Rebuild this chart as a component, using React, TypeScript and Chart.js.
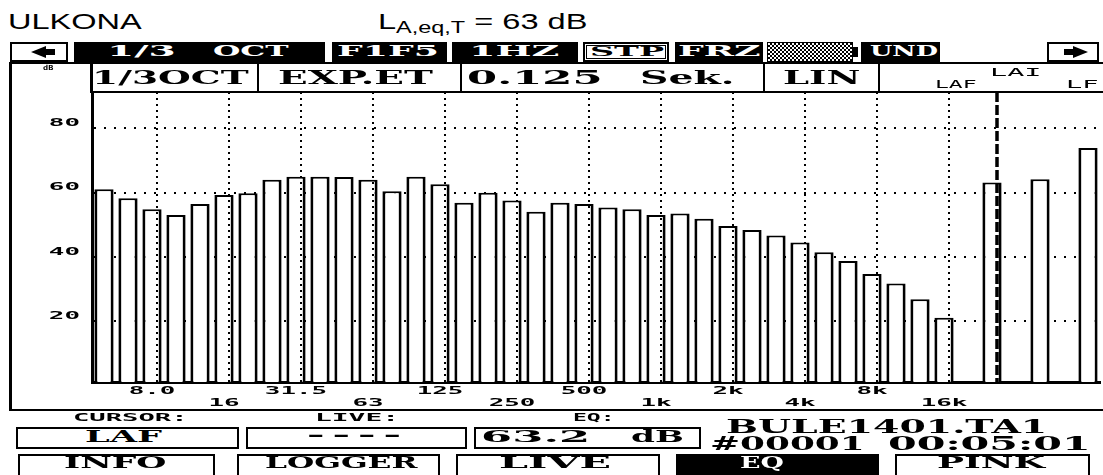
import React, { useEffect, useLayoutEffect, useRef, useState } from 'react';
import { Chart, registerables } from 'chart.js';

Chart.register(...registerables);

// ---------------- data ----------------
const bandLabels = ['5', '6.3', '8.0', '10', '12.5', '16', '20', '25', '31.5', '40', '50', '63', '80', '100', '125', '160', '200', '250', '315', '400', '500', '630', '800', '1k', '1.25k', '1.6k', '2k', '2.5k', '3.15k', '4k', '5k', '6.3k', '8k', '10k', '12.5k', '16k'];
const bandLevels = [61.0, 58.2, 54.8, 53.0, 56.4, 59.2, 59.8, 64.0, 64.9, 64.9, 64.8, 64.0, 60.4, 64.9, 62.6, 56.8, 59.9, 57.5, 54.0, 56.8, 56.4, 55.3, 54.8, 53.0, 53.5, 51.8, 49.6, 48.3, 46.6, 44.4, 41.4, 38.7, 34.6, 31.7, 26.8, 21.0];
const summaryLabels = ['LAF', 'LAI', 'LF'];
const summaryLevels = [63.1, 64.1, 73.9];
const octaveTicks = ['8.0', '16', '31.5', '63', '125', '250', '500', '1k', '2k', '4k', '8k', '16k'];
const yTicks = [20, 40, 60, 80];
const yMin = 1;
const yMax = 91.3;
const cursorLabel = 'LAF';

// ---------------- chart helpers ----------------
const TICK_STRETCH = 2.35;

const stretchTextPlugin = {
  id: 'lcdStretchText',
  beforeDraw(chart: any) {
    const ctx = chart.ctx;
    const native = CanvasRenderingContext2D.prototype.fillText;
    ctx.fillText = function (text: string, x: number, y: number) {
      this.save();
      this.translate(x, y);
      this.scale(TICK_STRETCH, 1);
      native.call(this, text, 0, 0);
      this.restore();
    };
  },
  afterDraw(chart: any) {
    delete chart.ctx.fillText;
  },
};

const gridOverlayPlugin = {
  id: 'lcdGridOverlay',
  afterDatasetsDraw(chart: any) {
    const { ctx, chartArea, scales } = chart;
    const x = scales.x;
    const slot = x.getPixelForValue(1) - x.getPixelForValue(0);
    const shift = slot * 0.21;
    const labels: string[] = chart.data.labels;
    ctx.save();
    ctx.strokeStyle = '#000';
    ctx.lineWidth = 2;
    ctx.setLineDash([2, 4]);
    labels.forEach((lab, i) => {
      if (i < bandLabels.length && octaveTicks.includes(lab)) {
        const px = Math.round(x.getPixelForValue(i) + shift);
        ctx.beginPath();
        ctx.moveTo(px, chartArea.top);
        ctx.lineTo(px, chartArea.bottom);
        ctx.stroke();
      }
    });
    const ci = labels.indexOf(cursorLabel);
    if (ci >= 0) {
      const px = Math.round(x.getPixelForValue(ci) + shift);
      ctx.lineWidth = 3.5;
      ctx.setLineDash([10, 3]);
      ctx.beginPath();
      ctx.moveTo(px, chartArea.top);
      ctx.lineTo(px, chartArea.bottom);
      ctx.stroke();
    }
    ctx.restore();
  },
};

function tickText(i: number): string | string[] {
  if (i >= bandLabels.length) return '';
  const k = octaveTicks.indexOf(bandLabels[i]);
  if (k < 0) return '';
  return k % 2 === 0 ? octaveTicks[k] : ['', octaveTicks[k]];
}

const tickFont = { family: '"DejaVu Sans Mono", monospace', size: 11, weight: 'bold' as const, lineHeight: 12 / 11 };

function SpectrumChart() {
  const ref = useRef<HTMLCanvasElement>(null);
  useEffect(() => {
    const canvas = ref.current;
    if (!canvas) return;
    const categories = [...bandLabels, ...summaryLabels.flatMap((l) => ['', l])];
    const values = [...bandLevels, ...summaryLevels.flatMap((v) => [null, v])];
    const chart = new Chart(canvas, {
      type: 'bar',
      data: {
        labels: categories,
        datasets: [
          {
            data: values as any,
            backgroundColor: '#fff',
            borderColor: '#000',
            borderWidth: { top: 2, left: 3, right: 3, bottom: 0 },
            borderSkipped: 'start',
            barPercentage: 0.8,
            categoryPercentage: 1,
          },
        ],
      },
      options: {
        animation: false,
        responsive: true,
        maintainAspectRatio: false,
        devicePixelRatio: 1,
        events: [],
        layout: { padding: { top: 0, right: 3, bottom: 0, left: 0 } },
        plugins: { legend: { display: false }, tooltip: { enabled: false } },
        scales: {
          x: {
            type: 'category',
            position: 'bottom',
            offset: true,
            z: 1,
            grid: { display: false, drawTicks: false },
            border: { display: true, color: '#000', width: 3 },
            ticks: {
              autoSkip: false,
              maxRotation: 0,
              minRotation: 0,
              padding: 3,
              color: '#000',
              font: tickFont,
              callback: (_v: any, i: number) => tickText(i),
            },
            afterFit: (s: any) => {
              s.height = 30;
              s.paddingLeft = 0;
              s.paddingRight = 0;
            },
          } as any,
          y: {
            type: 'linear',
            position: 'left',
            min: yMin,
            max: yMax,
            grid: { color: '#000', lineWidth: 2, drawTicks: false },
            border: { display: true, color: '#000', width: 3, dash: [2, 8] },
            ticks: {
              padding: 12,
              labelOffset: -5,
              color: '#000',
              font: tickFont,
              callback: (v: any) => String(v),
            },
            afterBuildTicks: (s: any) => {
              s.ticks = yTicks.map((v) => ({ value: v }));
            },
            afterFit: (s: any) => {
              s.width = 82;
              s.paddingTop = 0;
              s.paddingBottom = 0;
            },
          } as any,
        },
      },
      plugins: [stretchTextPlugin, gridOverlayPlugin],
    });
    return () => chart.destroy();
  }, []);
  return (
    <div style={{ position: 'absolute', left: 10, top: 92, width: 1093, height: 320 }}>
      <canvas ref={ref} />
    </div>
  );
}

// ---------------- LCD text / boxes ----------------
const FONTS: Record<string, { family: string; cap: number; capTop: number }> = {
  serif: { family: '"DejaVu Serif", serif', cap: 0.729, capTop: 0.117 },
  mono: { family: '"DejaVu Sans Mono", monospace', cap: 0.729, capTop: 0.117 },
  sans: { family: '"Liberation Sans", Arial, sans-serif', cap: 0.716, capTop: 0.1305 },
};

type FitProps = {
  x: number;
  top: number;
  cap: number;
  w: number;
  children: React.ReactNode;
  font?: string;
  color?: string;
  weight?: number;
};

function Fit({ x, top, cap, w, children, font = 'serif', color = '#000', weight = 700 }: FitProps) {
  const f = FONTS[font];
  const size = cap / f.cap;
  const ref = useRef<HTMLDivElement>(null);
  const [sx, setSx] = useState(1);
  useLayoutEffect(() => {
    const el = ref.current;
    if (el && el.offsetWidth > 0) setSx(w / el.offsetWidth);
  }, [w, cap]);
  return (
    <div
      ref={ref}
      style={{
        position: 'absolute',
        left: x,
        top: top - f.capTop * size,
        fontFamily: f.family,
        fontSize: size,
        fontWeight: weight,
        lineHeight: 1,
        color,
        whiteSpace: 'pre',
        transform: `scaleX(${sx})`,
        transformOrigin: '0 0',
      }}
    >
      {children}
    </div>
  );
}

function Box({ x, y, w, h, bg = '#fff', border = 2, extra = {} }: { x: number; y: number; w: number; h: number; bg?: string; border?: number; extra?: React.CSSProperties }) {
  return (
    <div
      style={{
        position: 'absolute',
        left: x,
        top: y,
        width: w,
        height: h,
        boxSizing: 'border-box',
        background: bg,
        border: border ? `${border}px solid #000` : 'none',
        ...extra,
      }}
    />
  );
}

function Line({ x, y, w, h }: { x: number; y: number; w: number; h: number }) {
  return <div style={{ position: 'absolute', left: x, top: y, width: w, height: h, background: '#000' }} />;
}

export default function App() {
  const TB = 42; // top bar y
  const TBH = 20;
  const tbCap = 46;
  const hdCap = 71;
  return (
    <div style={{ position: 'fixed', left: 0, top: 0, width: 1103, height: 475, background: '#fff', overflow: 'hidden' }}>
      <SpectrumChart />

      {/* title */}
      <Fit x={8} top={14} cap={16} w={134} font="sans" weight={400}>ULKONA</Fit>
      <Fit x={378} top={14} cap={16} w={210} font="sans" weight={400}>
        L<span style={{ fontSize: '0.72em', position: 'relative', top: '0.25em' }}>A,eq,T</span> = 63 dB
      </Fit>

      {/* top status bar */}
      <Box x={10} y={TB} w={58} h={TBH} />
      <div style={{ position: 'absolute', left: 31, top: 46, width: 0, height: 0, borderTop: '6px solid transparent', borderBottom: '6px solid transparent', borderRight: '15px solid #000' }} />
      <Line x={45} y={49} w={10} h={6} />
      <Box x={74} y={TB} w={251} h={TBH} bg="#000" border={0} />
      <Fit x={107} top={tbCap} cap={11} w={70} color="#fff">1/3</Fit>
      <Fit x={213} top={tbCap} cap={11} w={75} color="#fff">OCT</Fit>
      <Box x={332} y={TB} w={115} h={TBH} bg="#000" border={0} />
      <Fit x={337} top={tbCap} cap={11} w={101} color="#fff">F1F5</Fit>
      <Box x={452} y={TB} w={126} h={TBH} bg="#000" border={0} />
      <Fit x={469} top={tbCap} cap={11} w={91} color="#fff">1HZ</Fit>
      <Box x={583} y={TB} w={86} h={TBH} extra={{ boxShadow: 'inset 0 0 0 1px #fff, inset 0 0 0 2px #000' }} />
      <Fit x={590} top={tbCap + 1} cap={10} w={73}>STP</Fit>
      <Box x={675} y={TB} w={88} h={TBH} bg="#000" border={0} />
      <Fit x={678} top={tbCap} cap={11} w={82} color="#fff">FRZ</Fit>
      <Box x={767} y={TB} w={86} h={TBH} border={1} extra={{ background: 'repeating-conic-gradient(#000 0% 25%, #fff 0% 50%) 0 0 / 4px 4px' }} />
      <Line x={853} y={47} w={5} h={10} />
      <Box x={861} y={TB} w={79} h={TBH} bg="#000" border={0} />
      <Fit x={870} top={tbCap} cap={11} w={68} color="#fff">UND</Fit>
      <Box x={1047} y={TB} w={52} h={TBH} />
      <Line x={1064} y={49} w={10} h={6} />
      <div style={{ position: 'absolute', left: 1073, top: 46, width: 0, height: 0, borderTop: '6px solid transparent', borderBottom: '6px solid transparent', borderLeft: '15px solid #000' }} />

      {/* header row */}
      <Line x={10} y={62} w={1093} h={2} />
      <Line x={90} y={91} w={1013} h={2} />
      <Line x={9} y={62} w={3} h={349} />
      <Line x={90} y={62} w={3} h={31} />
      <Line x={257} y={62} w={2} h={31} />
      <Line x={460} y={62} w={2} h={31} />
      <Line x={763} y={62} w={2} h={31} />
      <Line x={878} y={62} w={2} h={31} />
      <Fit x={43} top={66} cap={5} w={10} font="mono">dB</Fit>
      <Fit x={92} top={hdCap} cap={13} w={156}>1/3OCT</Fit>
      <Fit x={278} top={hdCap} cap={13} w={155}>EXP.ET</Fit>
      <Fit x={467} top={hdCap} cap={13} w={136}>0.125</Fit>
      <Fit x={640} top={hdCap} cap={13} w={95}>Sek.</Fit>
      <Fit x={783} top={hdCap} cap={13} w={77}>LIN</Fit>
      <Fit x={935} top={81} cap={8} w={42} font="mono" weight={400}>LAF</Fit>
      <Fit x={990} top={69} cap={8} w={52} font="mono" weight={400}>LAI</Fit>
      <Fit x={1066} top={81} cap={8} w={32} font="mono" weight={400}>LF</Fit>

      {/* bottom frame */}
      <Line x={9} y={409} w={1094} h={2} />

      {/* cursor / live / eq */}
      <Fit x={73} top={414} cap={8} w={114} font="mono">CURSOR:</Fit>
      <Fit x={315} top={414} cap={8} w={84} font="mono">LIVE:</Fit>
      <Fit x={573} top={414} cap={8} w={42} font="mono">EQ:</Fit>
      <Box x={16} y={427} w={223} h={22} />
      <Fit x={85} top={431} cap={12} w={77}>LAF</Fit>
      <Box x={246} y={427} w={221} h={22} />
      <Fit x={303} top={429} cap={12} w={103} font="mono">----</Fit>
      <Box x={474} y={427} w={227} h={22} />
      <Fit x={481} top={431} cap={12} w={109}>63.2</Fit>
      <Fit x={631} top={431} cap={12} w={52}>dB</Fit>
      <Fit x={726} top={419} cap={14} w={322}>BULE1401.TA1</Fit>
      <Fit x={710} top={436} cap={14} w={155}>#00001</Fit>
      <Fit x={888} top={436} cap={14} w={202}>00:05:01</Fit>

      {/* soft keys */}
      <Box x={18} y={454} w={197} h={30} />
      <Fit x={64} top={457} cap={12} w={103}>INFO</Fit>
      <Box x={237} y={454} w={203} h={30} />
      <Fit x={265} top={457} cap={12} w={152}>LOGGER</Fit>
      <Box x={456} y={454} w={204} h={30} />
      <Fit x={499} top={457} cap={12} w={113}>LIVE</Fit>
      <Box x={676} y={454} w={203} h={30} bg="#000" border={0} />
      <Fit x={740} top={457} cap={12} w={44} color="#fff">EQ</Fit>
      <Box x={895} y={454} w={195} h={30} />
      <Fit x={937} top={457} cap={12} w={107}>PINK</Fit>
    </div>
  );
}
